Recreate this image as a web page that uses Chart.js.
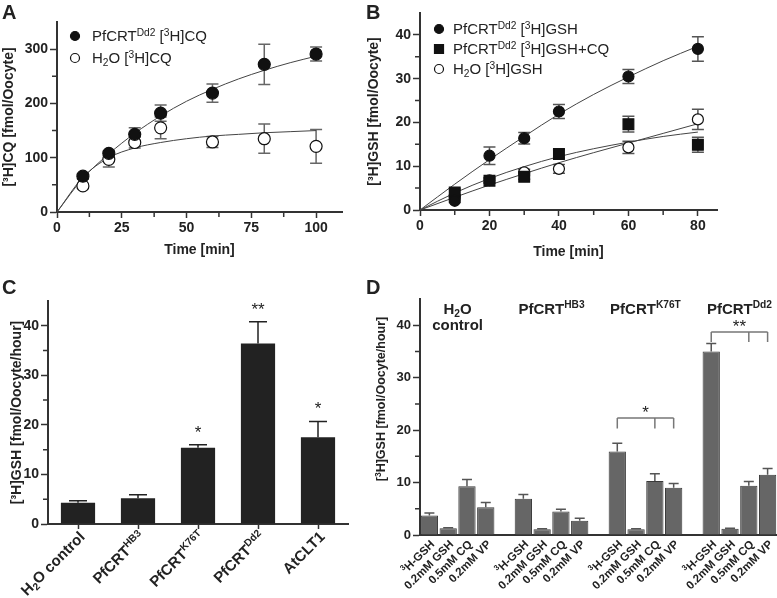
<!DOCTYPE html>
<html lang="en">
<head>
<meta charset="UTF-8">
<title>PfCRT [3H]CQ and [3H]GSH uptake</title>
<script src="https://cdn.jsdelivr.net/npm/chart.js@4.4.1/dist/chart.umd.min.js"></script>
<style>
  html, body { margin: 0; padding: 0; background: #fff; }
  #page { position: relative; width: 777px; height: 598px; overflow: hidden; }
  #page canvas { position: absolute; left: 0; top: 0; }
</style>
</head>
<body>
<div id="page">
  <canvas id="chartA" width="777" height="598"></canvas>
  <canvas id="chartB" width="777" height="598"></canvas>
  <canvas id="chartC" width="777" height="598"></canvas>
  <canvas id="chartD" width="777" height="598"></canvas>
</div>
<script>
// ---- A: [3H]CQ uptake, fmol/oocyte
const timeA = [10, 20, 30, 40, 60, 80, 100];
const cqDd2 = [66, 108, 143, 182, 219, 272, 291];
const cqDd2Sem = [5, 5, 12, 15, 17, 37, 13];
const cqH2O = [48, 97, 128, 155, 129, 135, 121];
const cqH2OSem = [4, 14, 10, 20, 10, 27, 31];
const fitTimeA = [0, 10, 20, 30, 40, 50, 60, 70, 80, 90, 100];
const cqDd2Fit = [0, 62, 107, 145, 177, 204, 226, 245, 261, 275, 287];
const cqH2OFit = [0, 64, 100, 118, 128, 135, 140, 143, 146, 148, 150];
const xTicksA = [0, 25, 50, 75, 100];
const yTicksA = [0, 100, 200, 300];

// ---- B: [3H]GSH uptake, fmol/oocyte
const timeB = [10, 20, 30, 40, 60, 80];
const gshDd2 = [2.1, 12.4, 16.4, 22.5, 30.5, 36.8];
const gshDd2Sem = [0.4, 2.0, 1.3, 1.6, 1.6, 2.8];
const gshDd2CQ = [4.0, 6.7, 7.6, 12.8, 19.6, 14.9];
const gshDd2CQSem = [0.8, 0.6, 0.6, 1.0, 1.8, 1.7];
const gshH2O = [3.0, 6.8, 8.6, 9.4, 14.3, 20.7];
const gshH2OSem = [0.5, 0.6, 0.7, 1.0, 1.4, 2.3];
const fitTimeB = [0, 10, 20, 30, 40, 50, 60, 70, 80];
const gshDd2Fit = [0, 5.9, 11.5, 16.8, 21.9, 26.4, 30.4, 34.1, 37.4];
const gshDd2CQFit = [0, 3.9, 7.2, 9.9, 12.2, 14.0, 15.5, 16.8, 17.8];
const gshH2OFit = [0, 2.9, 5.7, 8.3, 10.8, 13.1, 15.3, 17.5, 19.7];
const xTicksB = [0, 20, 40, 60, 80];
const yTicksB = [0, 10, 20, 30, 40];

// ---- C: GSH uptake rate, fmol/oocyte/hour
const groupsC = ['H_{2}O control', 'PfCRT^{HB3}', 'PfCRT^{K76T}', 'PfCRT^{Dd2}', 'AtCLT1'];
const rateC = [4.3, 5.2, 15.4, 36.4, 17.5];
const rateCSem = [0.4, 0.7, 0.6, 4.4, 3.2];
const starsC = ['', '', '*', '**', '*'];

// ---- D: GSH uptake rate with competitors
const strainsD = ['H_{2}O|control', 'PfCRT^{HB3}', 'PfCRT^{K76T}', 'PfCRT^{Dd2}'];
const conditionsD = ['^{3}H-GSH', '0.2mM GSH', '0.5mM CQ', '0.2mM VP'];
const rateH2O = [3.7, 1.3, 9.3, 5.3];
const rateHB3 = [6.9, 1.1, 4.5, 2.7];
const rateK76T = [15.9, 1.1, 10.3, 9.0];
const rateDd2 = [35.0, 1.2, 9.4, 11.5];
const semH2O = [0.5, 0.1, 1.3, 0.9];
const semHB3 = [0.8, 0.1, 0.4, 0.5];
const semK76T = [1.6, 0.1, 1.4, 0.8];
const semDd2 = [1.5, 0.1, 0.8, 1.2];
const yTicksCD = [0, 10, 20, 30, 40];

const PAGE_W = 777, PAGE_H = 598;
const FONT = "'Liberation Sans', Arial, Helvetica, sans-serif";
const INK = '#222';
const AXIS = '#333';
Chart.defaults.font.family = FONT;
Chart.defaults.color = INK;

const pts = (xs, ys) => xs.map((x, i) => ({x: x, y: ys[i]}));
const fnt = (size, bold) => (bold ? 'bold ' : '') + size + 'px ' + FONT;

// tiny markup: ^{..} superscript, _{..} subscript
function parts(str) {
  const out = [], re = /([\^_])\{([^}]*)\}/g;
  let last = 0, m;
  while ((m = re.exec(str))) {
    if (m.index > last) out.push({t: str.slice(last, m.index), mode: 0});
    out.push({t: m[2], mode: m[1] === '^' ? 1 : -1});
    last = re.lastIndex;
  }
  if (last < str.length) out.push({t: str.slice(last), mode: 0});
  return out;
}
function richWidth(ctx, str, size, bold) {
  let w = 0;
  parts(str).forEach(p => { ctx.font = fnt(p.mode ? size * 0.68 : size, bold); w += ctx.measureText(p.t).width; });
  return w;
}
function drawRich(ctx, str, x, y, size, bold, align) {
  let cx = x;
  if (align === 'center') cx -= richWidth(ctx, str, size, bold) / 2;
  if (align === 'right') cx -= richWidth(ctx, str, size, bold);
  ctx.textAlign = 'left';
  ctx.textBaseline = 'alphabetic';
  parts(str).forEach(p => {
    ctx.font = fnt(p.mode ? size * 0.68 : size, bold);
    const dy = p.mode === 1 ? -size * 0.38 : (p.mode === -1 ? size * 0.2 : 0);
    ctx.fillText(p.t, cx, y + dy);
    cx += ctx.measureText(p.t).width;
  });
}

// page position of plot area + titles -> layout padding and fixed axis sizes
function frame(b) {
  const half = 14 * 1.2 / 2;
  const padLeft = b.yTitleX - half;
  const xH = b.xTitleY ? b.xTitleY + half - b.bottom : 40;
  return {
    padding: {left: padLeft, top: b.top, right: PAGE_W - b.right, bottom: PAGE_H - b.bottom - xH},
    yWidth: b.left - padLeft,
    xHeight: xH
  };
}

function drawErrors(chart, cfg) {
  const ctx = chart.ctx, ys = chart.scales.y;
  ctx.save();
  ctx.strokeStyle = cfg.errColor;
  ctx.lineWidth = 1.5;
  chart.data.datasets.forEach((ds, di) => {
    if (!ds.err) return;
    chart.getDatasetMeta(di).data.forEach((el, i) => {
      const raw = ds.data[i];
      if (raw == null) return;
      const v = typeof raw === 'object' ? raw.y : raw;
      const e = ds.err[i];
      const top = ys.getPixelForValue(v + e);
      const bot = cfg.errors === 'both' ? ys.getPixelForValue(v - e) : el.y;
      const w = cfg.cap;
      ctx.beginPath();
      ctx.moveTo(el.x, top); ctx.lineTo(el.x, bot);
      ctx.moveTo(el.x - w, top); ctx.lineTo(el.x + w, top);
      if (cfg.errors === 'both') { ctx.moveTo(el.x - w, bot); ctx.lineTo(el.x + w, bot); }
      ctx.stroke();
    });
  });
  ctx.restore();
}

function marker(ctx, style, x, y, r, fill, stroke) {
  ctx.beginPath();
  if (style === 'rect') ctx.rect(x - r, y - r, 2 * r, 2 * r);
  else ctx.arc(x, y, r, 0, Math.PI * 2);
  ctx.fillStyle = fill; ctx.fill();
  ctx.strokeStyle = stroke; ctx.lineWidth = 1.2; ctx.stroke();
}

function decor(cfg) {
  return {
    id: 'decor',
    beforeDatasetsDraw(chart) { if (cfg.errors === 'both') drawErrors(chart, cfg); },
    afterDatasetsDraw(chart) { if (cfg.errors === 'up') drawErrors(chart, cfg); },
    afterDraw(chart) {
      const ctx = chart.ctx, area = chart.chartArea;
      const xs = chart.scales.x, ys = chart.scales.y;
      ctx.save();
      ctx.fillStyle = INK;
      ctx.strokeStyle = AXIS;
      ctx.lineWidth = 1.5;
      // minor ticks
      ctx.beginPath();
      (cfg.minorY || []).forEach(v => { const p = ys.getPixelForValue(v); ctx.moveTo(area.left - 1, p); ctx.lineTo(area.left - 5, p); });
      (cfg.minorX || []).forEach(v => { const p = xs.getPixelForValue(v); ctx.moveTo(p, area.bottom + 1); ctx.lineTo(p, area.bottom + 5); });
      ctx.stroke();
      // y title drawn by hand where it is not centred on the axis
      if (cfg.yTitle) {
        const T = cfg.yTitle;
        ctx.save();
        ctx.translate(T.x, T.y);
        ctx.rotate(-Math.PI / 2);
        ctx.fillStyle = INK;
        drawRich(ctx, T.text, 0, T.size * 0.35, T.size, true, 'center');
        ctx.restore();
      }
      // legend
      if (cfg.legend) {
        const L = cfg.legend;
        chart.data.datasets.filter(d => d.err).forEach((ds, k) => {
          const cy = L.y + k * L.dy;
          marker(ctx, ds.pointStyle, L.x, cy, L.r, ds.pointBackgroundColor, ds.pointBorderColor);
          ctx.fillStyle = INK;
          drawRich(ctx, ds.label, L.textX, cy + L.size * 0.36, L.size, false, 'left');
        });
      }
      // rotated category labels
      if (cfg.cat) {
        const C = cfg.cat;
        chart.data.labels.forEach((t, i) => {
          if (!t) return;
          ctx.save();
          ctx.translate(xs.getPixelForValue(i) + C.dx, area.bottom + C.dy);
          ctx.rotate(-Math.PI / 4);
          ctx.fillStyle = INK;
          drawRich(ctx, t, 0, C.size * 0.35, C.size, true, 'right');
          ctx.restore();
        });
      }
      // significance stars above bars
      if (cfg.stars) {
        const ds = chart.data.datasets[0], meta = chart.getDatasetMeta(0);
        ctx.font = fnt(17, false); ctx.textAlign = 'center'; ctx.textBaseline = 'alphabetic';
        cfg.stars.forEach((s, i) => {
          if (!s) return;
          const top = ys.getPixelForValue(ds.data[i] + ds.err[i]);
          ctx.fillText(s, meta.data[i].x, top - 7);
        });
      }
      // brackets
      if (cfg.brackets) {
        ctx.strokeStyle = '#777'; ctx.lineWidth = 1.5;
        cfg.brackets.forEach(b => {
          const px = b.ticks.map(c => xs.getPixelForValue(b.group * 5 + c));
          const yl = ys.getPixelForValue(b.level), yd = ys.getPixelForValue(b.drop);
          ctx.beginPath();
          ctx.moveTo(px[0], yl); ctx.lineTo(px[px.length - 1], yl);
          px.forEach(p => { ctx.moveTo(p, yl); ctx.lineTo(p, yd); });
          ctx.stroke();
          ctx.font = fnt(17, false); ctx.textAlign = 'center'; ctx.textBaseline = 'alphabetic';
          ctx.fillText(b.text, (px[0] + px[px.length - 1]) / 2, yl);
        });
      }
      // group headers
      if (cfg.headers) {
        cfg.headers.forEach((h, g) => {
          const cx = (xs.getPixelForValue(g * 5) + xs.getPixelForValue(g * 5 + 3)) / 2;
          h.split('|').forEach((line, k) => drawRich(ctx, line, cx, 314 + k * 16, 15, true, 'center'));
        });
      }
      // panel letter
      if (cfg.letter) {
        ctx.font = fnt(20, true); ctx.textAlign = 'left'; ctx.textBaseline = 'alphabetic';
        ctx.fillText(cfg.letter.t, cfg.letter.x, cfg.letter.y);
      }
      ctx.restore();
    }
  };
}

function yAxis(min, max, majors, f, title, size) {
  return {
    type: 'linear', position: 'left', min: min, max: max,
    afterBuildTicks: s => { s.ticks = majors.map(v => ({value: v})); },
    afterFit: s => { s.width = f.yWidth; },
    border: {color: AXIS, width: 2},
    grid: {drawOnChartArea: false, tickLength: 7, tickColor: AXIS, tickWidth: 1.5},
    ticks: {font: {size: size, weight: 'bold'}, color: INK, padding: 2},
    title: {display: !!title, text: title, font: {size: 14, weight: 'bold'}, color: INK, padding: 0}
  };
}
function xAxis(min, max, majors, f, title) {
  return {
    type: 'linear', position: 'bottom', min: min, max: max,
    afterBuildTicks: s => { s.ticks = majors.map(v => ({value: v})); },
    afterFit: s => { s.height = f.xHeight; },
    border: {color: AXIS, width: 2},
    grid: {drawOnChartArea: false, tickLength: 6, tickColor: AXIS, tickWidth: 1.5},
    ticks: {font: {size: 14, weight: 'bold'}, color: INK, padding: 2, maxRotation: 0},
    title: {display: true, text: title, font: {size: 14, weight: 'bold'}, color: INK, padding: 0}
  };
}
function base(f) {
  return {
    responsive: false, animation: false,
    layout: {padding: f.padding, autoPadding: false},
    plugins: {legend: {display: false}, tooltip: {enabled: false}}
  };
}
function fitLine(xs, ys) {
  return {data: pts(xs, ys), showLine: true, pointRadius: 0, borderColor: '#444', borderWidth: 1,
          cubicInterpolationMode: 'monotone', order: 9};
}

// ---------- A
const fA = frame({left: 57, top: 22, right: 342, bottom: 212, yTitleX: 9, xTitleY: 250});
new Chart(document.getElementById('chartA'), {
  type: 'scatter',
  data: {datasets: [
    {label: 'PfCRT^{Dd2} [^{3}H]CQ', data: pts(timeA, cqDd2), err: cqDd2Sem, pointStyle: 'circle',
     pointRadius: 6, pointBackgroundColor: '#111', pointBorderColor: '#111', pointBorderWidth: 1.2, order: 1},
    {label: 'H_{2}O [^{3}H]CQ', data: pts(timeA, cqH2O), err: cqH2OSem, pointStyle: 'circle',
     pointRadius: 6, pointBackgroundColor: '#fff', pointBorderColor: '#111', pointBorderWidth: 1.2, order: 2},
    fitLine(fitTimeA, cqDd2Fit),
    fitLine(fitTimeA, cqH2OFit)
  ]},
  options: Object.assign(base(fA), {scales: {
    x: xAxis(0, 110, xTicksA, fA, 'Time [min]'),
    y: yAxis(0, 350, yTicksA, fA, '[³H]CQ [fmol/Oocyte]', 14)
  }}),
  plugins: [decor({errors: 'both', errColor: '#666', cap: 6, minorY: [50, 150, 250], minorX: [12.5, 37.5, 62.5, 87.5],
    legend: {x: 75, y: 36, dy: 22, r: 4.5, textX: 92, size: 15}, letter: {t: 'A', x: 2, y: 19}})]
});

// ---------- B
const fB = frame({left: 420, top: 13, right: 717, bottom: 210, yTitleX: 374, xTitleY: 252});
new Chart(document.getElementById('chartB'), {
  type: 'scatter',
  data: {datasets: [
    {label: 'PfCRT^{Dd2} [^{3}H]GSH', data: pts(timeB, gshDd2), err: gshDd2Sem, pointStyle: 'circle',
     pointRadius: 5.5, pointBackgroundColor: '#111', pointBorderColor: '#111', pointBorderWidth: 1.2, order: 1},
    {label: 'PfCRT^{Dd2} [^{3}H]GSH+CQ', data: pts(timeB, gshDd2CQ), err: gshDd2CQSem, pointStyle: 'rect',
     pointRadius: 7.6, pointBackgroundColor: '#111', pointBorderColor: '#111', pointBorderWidth: 1.2, order: 2},
    {label: 'H_{2}O [^{3}H]GSH', data: pts(timeB, gshH2O), err: gshH2OSem, pointStyle: 'circle',
     pointRadius: 5.5, pointBackgroundColor: '#fff', pointBorderColor: '#111', pointBorderWidth: 1.2, order: 3},
    fitLine(fitTimeB, gshDd2Fit),
    fitLine(fitTimeB, gshDd2CQFit),
    fitLine(fitTimeB, gshH2OFit)
  ]},
  options: Object.assign(base(fB), {scales: {
    x: xAxis(0, 85.5, xTicksB, fB, 'Time [min]'),
    y: yAxis(0, 45, yTicksB, fB, '[³H]GSH [fmol/Oocyte]', 14)
  }}),
  plugins: [decor({errors: 'both', errColor: '#555', cap: 6, minorY: [5, 15, 25, 35], minorX: [10, 30, 50, 70],
    legend: {x: 439, y: 29, dy: 20, r: 4.5, textX: 453, size: 15}, letter: {t: 'B', x: 366, y: 19}})]
});

// ---------- C
const fC = frame({left: 48, top: 301, right: 348, bottom: 524, yTitleX: 17});
new Chart(document.getElementById('chartC'), {
  type: 'bar',
  data: {labels: groupsC, datasets: [
    {data: rateC, err: rateCSem, backgroundColor: '#222', borderWidth: 0, barPercentage: 0.57, categoryPercentage: 1}
  ]},
  options: Object.assign(base(fC), {scales: {
    x: {type: 'category', offset: true, afterFit: s => { s.height = fC.xHeight; },
        border: {color: AXIS, width: 2},
        grid: {offset: false, drawOnChartArea: false, tickLength: 5, tickColor: AXIS, tickWidth: 1.5},
        ticks: {display: false}},
    y: yAxis(0, 45, yTicksCD, fC, '[³H]GSH [fmol/Oocyte/hour]', 14)
  }}),
  plugins: [decor({errors: 'up', errColor: '#222', cap: 9, minorY: [5, 15, 25, 35],
    cat: {dx: 4, dy: 10, size: 15}, stars: starsC, letter: {t: 'C', x: 2, y: 294}})]
});

// ---------- D
const labelsD = [], valuesD = [], semD = [];
[[rateH2O, semH2O], [rateHB3, semHB3], [rateK76T, semK76T], [rateDd2, semDd2]].forEach((g, k) => {
  if (k > 0) { labelsD.push(''); valuesD.push(null); semD.push(null); }
  conditionsD.forEach((c, i) => { labelsD.push(c); valuesD.push(g[0][i]); semD.push(g[1][i]); });
});
const fD = frame({left: 420, top: 299, right: 777, bottom: 535, yTitleX: 381});
new Chart(document.getElementById('chartD'), {
  type: 'bar',
  data: {labels: labelsD, datasets: [
    {data: valuesD, err: semD, backgroundColor: '#666', borderColor: '#3a3a3a', borderWidth: 1,
     barPercentage: 0.92, categoryPercentage: 1}
  ]},
  options: Object.assign(base(fD), {scales: {
    x: {type: 'category', offset: true, afterFit: s => { s.height = fD.xHeight; },
        border: {color: AXIS, width: 2},
        grid: {drawOnChartArea: false, drawTicks: false},
        ticks: {display: false}},
    y: yAxis(0, 45, yTicksCD, fD, '', 13)
  }}),
  plugins: [decor({errors: 'up', errColor: '#555', cap: 5, minorY: [5, 15, 25, 35],
    yTitle: {text: '[^{3}H]GSH [fmol/Oocyte/hour]', x: 381, y: 399, size: 12.5},
    cat: {dx: 3, dy: 7, size: 11.5}, headers: strainsD,
    brackets: [{group: 2, ticks: [0, 2, 3], level: 22.3, drop: 20.3, text: '*'},
               {group: 3, ticks: [0, 2, 3], level: 38.7, drop: 36.8, text: '**'}],
    letter: {t: 'D', x: 366, y: 294}})]
});
</script>
</body>
</html>
